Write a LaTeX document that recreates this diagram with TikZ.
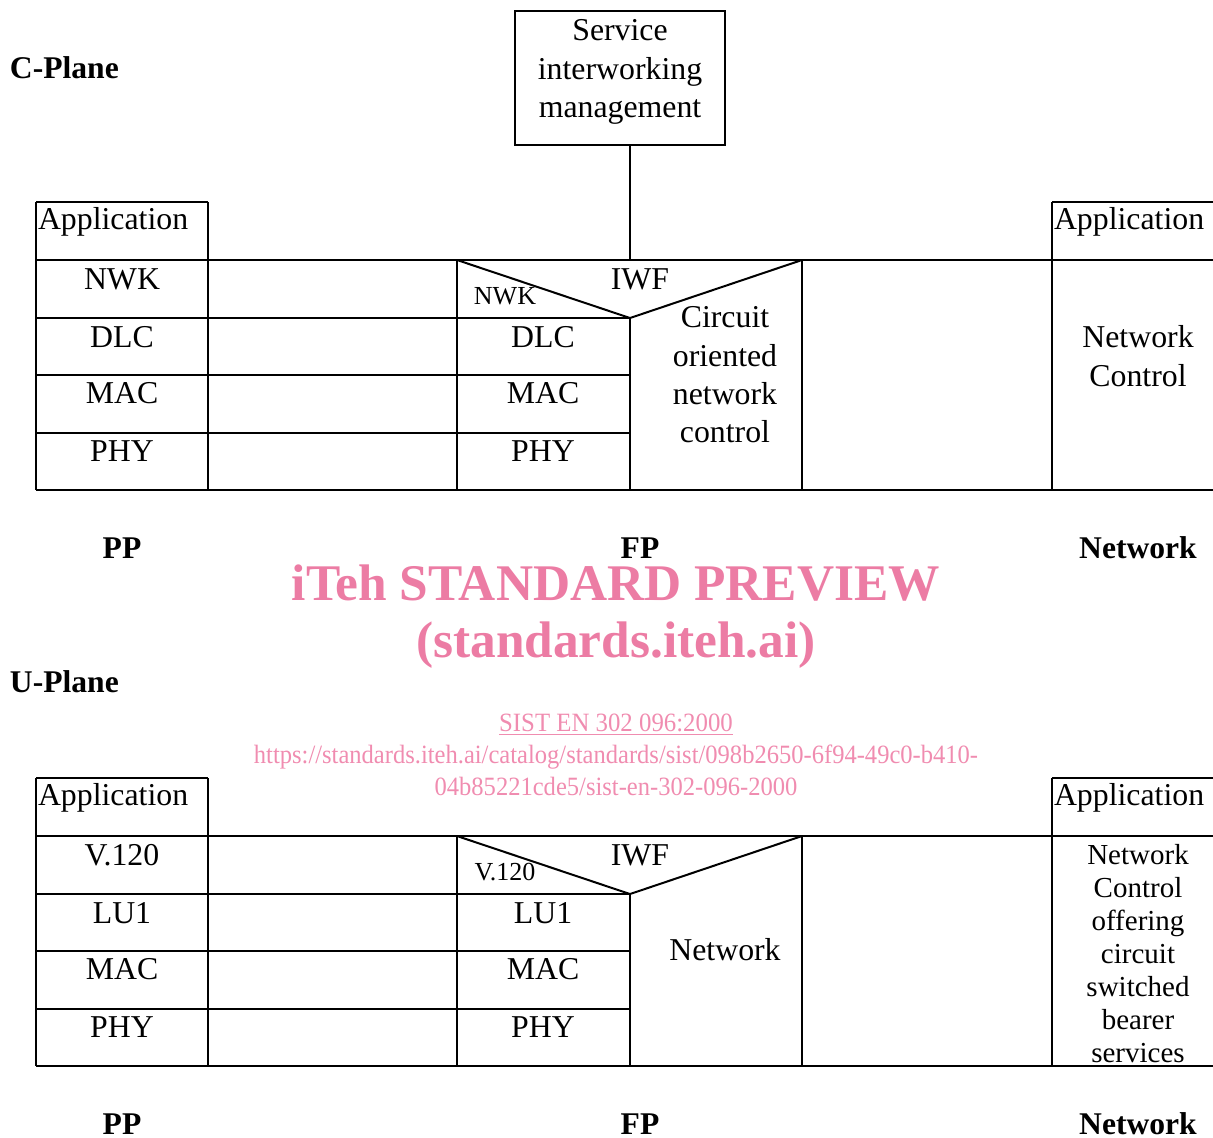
\documentclass[tikz,border=0pt]{standalone}
\usepackage{graphicx}
\usepackage{fontspec}
\setmainfont{Liberation Serif}
\usetikzlibrary{positioning}
\definecolor{wmpink}{RGB}{236,124,164}
\definecolor{wmlight}{RGB}{240,140,176}

\begin{document}
\begin{tikzpicture}[x=0.5pt, y=-0.5pt, line width=1pt,
  txt/.style={font=\fontsize{15.9}{19}\selectfont, inner sep=0pt, anchor=base},
  small/.style={font=\fontsize{13}{15}\selectfont, inner sep=0pt, anchor=base},
  lbl/.style={font=\fontsize{15.8}{19}\selectfont\bfseries, inner sep=0pt, anchor=base},
  multi/.style={font=\fontsize{15.9}{19.2}\selectfont, inner sep=0pt, align=center},
  wm/.style={text=wmpink, font=\fontsize{25.7}{30}\selectfont\bfseries, inner sep=0pt, anchor=base},
  wmsmall/.style={text=wmlight, font=\fontsize{13.2}{16}\selectfont, inner sep=0pt, anchor=base}]
  \useasboundingbox (0,0) rectangle (1213,1137);

  % protocol stacks, C-plane and U-plane
  \foreach \o in {0,576} {
    \draw (36,202+\o) -- (208,202+\o) (36,202+\o) -- (36,490+\o) (208,202+\o) -- (208,490+\o);
    \draw (1052,202+\o) -- (1213,202+\o) (1052,202+\o) -- (1052,490+\o);
    \draw (36,260+\o) -- (1213,260+\o) (36,490+\o) -- (1213,490+\o);
    \foreach \r in {318,375,433}
      \draw (36,\r+\o) -- (630,\r+\o);
    \draw (457,260+\o) -- (457,490+\o) (630,318+\o) -- (630,490+\o) (802,260+\o) -- (802,490+\o);
    \draw (457,260+\o) -- (630,318+\o) -- (802,260+\o);
  }

  % C-Plane
  \node[lbl, anchor=base west] (cplane) at (9,78) {C-Plane};
  \node[draw, minimum width=105pt, minimum height=67pt] (sim) at (620,78) {};
  \node[multi, yshift=3pt] (simtxt) at (sim) {Service\\interworking\\management};
  \coordinate (iwfjoin) at (630,260);
  \draw (iwfjoin |- sim.south) -- (iwfjoin);

  \node[txt, anchor=base west] (appPPc) at (37,229) {Application};
  \foreach \t/\y in {NWK/289, DLC/347, MAC/403, PHY/461}
    \node[txt] (pp\t) at (122,\y) {\t};
  \foreach \t/\y in {DLC/347, MAC/403, PHY/461}
    \node[txt] (fp\t) at (543,\y) {\t};
  \node[small] (fpNWK) at (505,304) {NWK};
  \node[txt] (iwfc) at (640,289) {IWF};
  \node[multi] (conc) at (725,375) {Circuit\\oriented\\network\\control};
  \node[txt, anchor=base west] (appNc) at (1053,229) {Application};
  \node[multi] (netc) at (1138,356) {Network\\Control};

  \node[lbl] (ppc) at (122,558) {PP};
  \node[lbl] (fpc) at (640,558) {FP};
  \node[lbl] (nc) at (1138,558) {Network};

  % watermark
  \node[wm] (wmtitle) at (616,600) {iTeh STANDARD PREVIEW};
  \node[wm] (wmsite) at (616,657) {(standards.iteh.ai)};
  \node[wmsmall] (wmdoc) at (616,731) {\scalebox{0.94}[1]{\underline{SIST EN 302 096:2000}}};
  \node[wmsmall] (wmurla) at (616,763) {\scalebox{0.93}[1]{https://standards.iteh.ai/catalog/standards/sist/098b2650-6f94-49c0-b410-}};
  \node[wmsmall] (wmurlb) at (616,795) {\scalebox{0.93}[1]{04b85221cde5/sist-en-302-096-2000}};

  % U-Plane
  \node[lbl, anchor=base west] (uplane) at (9,692) {U-Plane};
  \node[txt, anchor=base west] (appPPu) at (37,805) {Application};
  \foreach \t/\y in {V.120/865, LU1/923, MAC/979, PHY/1037}
    \node[txt] (ppu\t) at (122,\y) {\t};
  \foreach \t/\y in {LU1/923, MAC/979, PHY/1037}
    \node[txt] (fpu\t) at (543,\y) {\t};
  \node[small] (fpV) at (505,880) {V.120};
  \node[txt] (iwfu) at (640,865) {IWF};
  \node[txt] (netu) at (725,960) {Network};
  \node[txt, anchor=base west] (appNu) at (1053,805) {Application};
  \node[multi, font=\fontsize{14.5}{16.5}\selectfont] (ncu) at (1138,954)
    {Network\\Control\\offering\\circuit\\switched\\bearer\\services};

  \node[lbl] (ppu) at (122,1134) {PP};
  \node[lbl] (fpu) at (640,1134) {FP};
  \node[lbl] (nu) at (1138,1134) {Network};
\end{tikzpicture}
\end{document}
